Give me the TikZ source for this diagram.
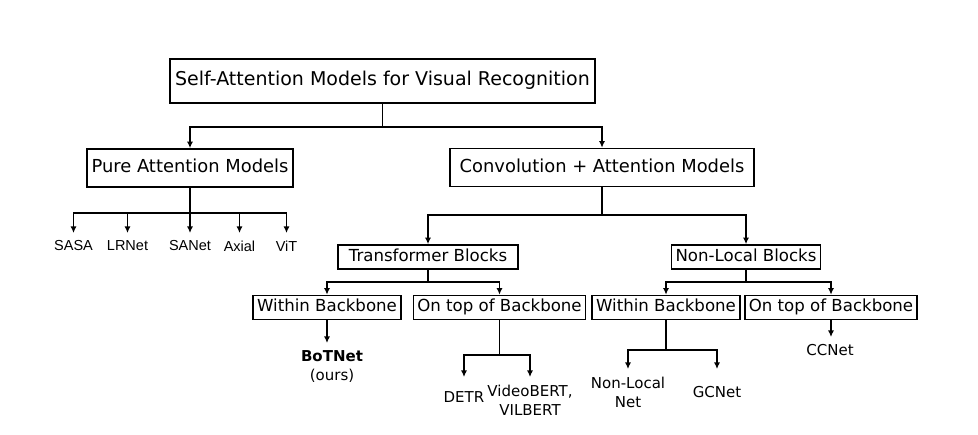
\documentclass[tikz,border=0pt]{standalone}
\usepackage{fontspec}
\setmainfont{DejaVu Sans}
\newfontfamily\arialfont{Liberation Sans}
\usetikzlibrary{arrows.meta}

\begin{document}
\begin{tikzpicture}[x=1pt,y=-1pt,line width=1.6pt,
  arr/.style={-{Latex[length=6.5pt,width=6pt]}},
  box/.style={draw,inner xsep=4pt,inner ysep=0pt,text height=12.6pt,text depth=3.9pt,minimum height=24pt,font=\fontsize{16.6}{19}\selectfont},
  catbox/.style={box,text height=13.6pt,text depth=4.2pt,minimum height=38pt,font=\fontsize{17.9}{21}\selectfont},
  titlebox/.style={box,inner xsep=5pt,text height=14.4pt,text depth=4.5pt,minimum height=44pt,font=\fontsize{19}{22}\selectfont},
  leaf/.style={anchor=north,inner xsep=0pt,inner ysep=7pt,align=center,font=\fontsize{15}{19}\selectfont},
  pureleaf/.style={leaf,font=\arialfont\fontsize{14.5}{17}\selectfont}]
\useasboundingbox (0,0) rectangle (978,435);

\node[titlebox] (title) at (382.5,81) {Self-Attention Models for Visual Recognition};
\node[catbox,minimum width=206pt] (pure) at (190,168) {Pure Attention Models};
\node[catbox,minimum width=304pt] (conv) at (602,167.5) {Convolution + Attention Models};

\node[pureleaf] (sasa) at (73.5,233) {SASA};
\node[pureleaf] (lrnet) at (127.5,233) {LRNet};
\node[pureleaf] (sanet) at (190,233) {SANet};
\node[pureleaf] (axial) at (239.5,233) {Axial};
\node[pureleaf] (vit) at (286.5,233) {ViT};

\node[box,minimum width=180pt] (trans) at (428,257) {Transformer Blocks};
\node[box,minimum width=144pt] (nonlocal) at (746,257) {Non-Local Blocks};

\node[box,minimum width=146pt] (wbL) at (327,307.5) {Within Backbone};
\node[box,minimum width=169pt] (otL) at (499.5,307.5) {On top of Backbone};
\node[box,minimum width=144pt] (wbR) at (666,307.5) {Within Backbone};
\node[box,minimum width=172pt] (otR) at (831,307.5) {On top of Backbone};

\node[leaf] (botnet) at (332,343) {\bfseries BoTNet\\(ours)};
\node[leaf] (detr) at (464,384) {DETR};
\node[leaf] (vbert) at (530,377) {VideoBERT,\\VILBERT};
\node[leaf] (nlnet) at (628,369) {Non-Local\\Net};
\node[leaf] (gcnet) at (717,379) {GCNet};
\node[leaf] (ccnet) at (830,337) {CCNet};

\draw[arr] (title.south) -- ++(0,23) -| (pure.north);
\draw[arr] (title.south) -- ++(0,23) -| (conv.north);
\foreach \n in {sasa,lrnet,sanet,axial,vit}
  \draw[arr] (pure.south) -- ++(0,25) -| (\n.north);

\draw[arr] (conv.south) -- ++(0,28) -| (trans.north);
\draw[arr] (conv.south) -- ++(0,28) -| (nonlocal.north);
\draw[arr] (trans.south) -- ++(0,12) -| (wbL.north);
\draw[arr] (trans.south) -- ++(0,12) -| (otL.north);
\draw[arr] (nonlocal.south) -- ++(0,12) -| (wbR.north);
\draw[arr] (nonlocal.south) -- ++(0,12) -| (otR.north);

\draw[arr] (wbL.south) -- (wbL.south |- botnet.north);
\draw[arr] (otL.south) -- ++(0,35) -| (detr.north |- vbert.north);
\draw[arr] (otL.south) -- ++(0,35) -| (vbert.north);
\draw[arr] (wbR.south) -- ++(0,30) -| (nlnet.north);
\draw[arr] (wbR.south) -- ++(0,30) -| (gcnet.north |- nlnet.north);
\draw[arr] (otR.south) -- (otR.south |- ccnet.north);
\end{tikzpicture}
\end{document}
